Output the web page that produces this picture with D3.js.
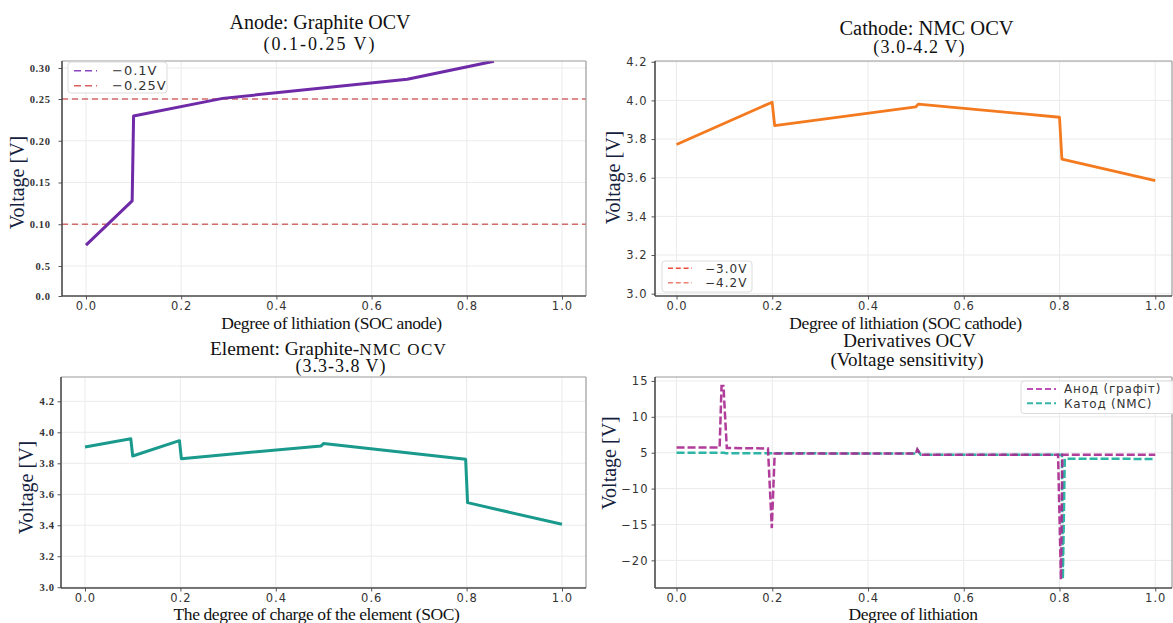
<!DOCTYPE html>
<html>
<head>
<meta charset="utf-8">
<script src="https://cdn.jsdelivr.net/npm/d3@7"></script>
<style>
  body { margin: 0; background: #fff; }
  svg { display: block; }
</style>
</head>
<body>
<svg id="chart" width="1173" height="623"></svg>
<script>
// ---- shared x ticks (degree of lithiation / SOC) ----
const socTicks = [0, 0.2, 0.4, 0.6, 0.8, 1.0];

// ---- Anode: graphite OCV ----
const anodeSoc     = [0, 0.097, 0.1, 0.287, 0.675, 0.857];
const anodeVoltage = [0.075, 0.128, 0.2296, 0.251, 0.282, 0.311];
const anodeYTicks      = [0, 0.05, 0.10, 0.15, 0.20, 0.25, 0.30];
const anodeYTickLabels = ["0.0", "0.5", "0.10", "0.15", "0.20", "0.25", "0.30"];
const anodeRefLevels = [0.10, 0.25];
const anodeLegend    = ["\u22120.1V", "\u22120.25V"];

// ---- Cathode: NMC OCV ----
const cathodeSoc     = [0, 0.1997, 0.205, 0.5, 0.505, 0.8, 0.805, 1.0];
const cathodeVoltage = [3.772, 3.991, 3.870, 3.967, 3.981, 3.913, 3.696, 3.585];
const cathodeYTicks  = [3.0, 3.2, 3.4, 3.6, 3.8, 4.0, 4.2];
const cathodeLegend  = ["\u22123.0V", "\u22124.2V"];

// ---- Full cell: graphite-NMC OCV ----
const cellSoc     = [0, 0.096, 0.1, 0.198, 0.202, 0.495, 0.5, 0.798, 0.802, 1.0];
const cellVoltage = [3.905, 3.959, 3.847, 3.946, 3.830, 3.912, 3.927, 3.826, 3.546, 3.406];
const cellYTicks  = [3.0, 3.2, 3.4, 3.6, 3.8, 4.0, 4.2];

// ---- Derivatives (voltage sensitivity) ----
const dAnodeSoc    = [0, 0.09, 0.094, 0.098, 0.105, 0.191, 0.199, 0.205, 0.5, 0.503, 0.51, 0.797, 0.803, 0.806, 1.0];
const dAnodeValue  = [5.74, 5.74, 14.3, 14.3, 5.65, 5.6, -15.5, 4.7, 4.7, 5.46, 4.2, 4.2, -22.7, 4.2, 4.2];
const dCathodeSoc   = [0, 0.1, 0.102, 0.5, 0.503, 0.51, 0.805, 0.807, 0.811, 1.0];
const dCathodeValue = [5.0, 5.0, 4.75, 4.7, 5.4, 4.2, 4.2, -22.6, 2.5, 2.4];
const derivYTicks      = [15, 10, 5, -10, -15, -20];
const derivYTickLabels = ["15", "10", "5", "\u221210", "\u221215", "\u221220"];
const derivLegend      = ["\u0410\u043d\u043e\u0434 (\u0433\u0440\u0430\u0444\u0456\u0442)", "\u041a\u0430\u0442\u043e\u0434 (NMC)"];

// ---- styling ----
const SERIF = "'Liberation Serif', 'Times New Roman', serif";
const SANS  = "'DejaVu Sans', sans-serif";
const LABEL_COLOR = "#14213d";

const svg = d3.select("#chart");
svg.append("rect").attr("width", 1173).attr("height", 623).attr("fill", "#fff");

const fmt1 = d3.format(".1f");

function panel(o) {
  const [x0, y0, x1, y1] = o.box;
  const w = x1 - x0, h = y1 - y0;
  const g = svg.append("g").attr("transform", `translate(${x0},${y0})`);
  const x = d3.scaleLinear().domain(o.xDomain).range([0, w]);
  const y = o.yScale(h);

  const clipId = "clip-" + o.id;
  g.append("clipPath").attr("id", clipId)
    .append("rect").attr("width", w).attr("height", h);

  // grid
  const grid = g.append("g").attr("stroke", "#ebebeb").attr("stroke-width", 1);
  grid.selectAll(".gx").data(socTicks).join("line")
    .attr("x1", d => x(d)).attr("x2", d => x(d)).attr("y1", 0).attr("y2", h);
  grid.selectAll(".gy").data(o.yTicks).join("line")
    .attr("x1", 0).attr("x2", w).attr("y1", d => y(d)).attr("y2", d => y(d));

  // axes
  const xa = g.append("g").attr("transform", `translate(0,${h})`)
    .call(d3.axisBottom(x).tickValues(socTicks).tickFormat(fmt1).tickSize(3.5).tickPadding(2.2));
  xa.select(".domain").remove();
  xa.selectAll("line").attr("stroke", "#555");
  xa.selectAll("text").attr("fill", "#333").style("font-family", SANS)
    .style("font-size", "11.5px").style("letter-spacing", "1px");

  const ya = g.append("g")
    .call(d3.axisLeft(y).tickValues(o.yTicks).tickFormat((d, i) => o.yTickLabels[i])
      .tickSize(3.5).tickPadding(o.yPad));
  ya.select(".domain").remove();
  ya.selectAll("line").attr("stroke", "#555");
  ya.selectAll("text").attr("fill", "#333");
  if (o.serifTicks) {
    ya.selectAll("text").style("font-family", SERIF).style("font-weight", "bold")
      .style("font-size", "10.5px").style("letter-spacing", "0.6px");
  } else {
    ya.selectAll("text").style("font-family", SANS)
      .style("font-size", "11.5px").style("letter-spacing", "1px");
  }

  const plot = g.append("g").attr("clip-path", `url(#${clipId})`);
  o.draw(plot, x, y, w, h);

  // frame
  g.append("line").attr("x1", 0).attr("x2", w).attr("y1", 0).attr("y2", 0)
    .attr("stroke", "#9a9a9a").attr("stroke-width", 1.2);
  g.append("line").attr("x1", w).attr("x2", w).attr("y1", 0).attr("y2", h)
    .attr("stroke", "#9a9a9a").attr("stroke-width", 1.2);
  g.append("line").attr("x1", 0).attr("x2", 0).attr("y1", 0).attr("y2", h)
    .attr("stroke", "#4a4a4a").attr("stroke-width", 1.6);
  g.append("line").attr("x1", 0).attr("x2", w).attr("y1", h).attr("y2", h)
    .attr("stroke", "#4a4a4a").attr("stroke-width", 1.6);

  if (o.legend) o.legend(g, x0, y0);
  return { g, x, y };
}

function line(xs, ys, x, y) {
  return d3.line().x((d, i) => x(xs[i])).y(d => y(d))(ys);
}

function legendBox(g, box, entries) {
  // box in page coordinates; g is translated by the panel origin
  const [bx0, by0, bx1, by1, ox, oy] = box;
  const lg = g.append("g").attr("transform", `translate(${-ox},${-oy})`);
  lg.append("rect").attr("x", bx0).attr("y", by0).attr("width", bx1 - bx0).attr("height", by1 - by0)
    .attr("rx", 3).attr("fill", "#fff").attr("fill-opacity", 0.85)
    .attr("stroke", "#dcdcdc").attr("stroke-width", 1);
  entries.forEach(e => {
    lg.append("line").attr("x1", e.sx0).attr("x2", e.sx1).attr("y1", e.y).attr("y2", e.y)
      .attr("stroke", e.color).attr("stroke-width", e.width).attr("stroke-dasharray", e.dash);
    lg.append("text").attr("x", e.tx).attr("y", e.y).attr("dy", "0.35em")
      .attr("fill", "#333").style("font-family", SANS).style("font-size", (e.size || 12) + "px")
      .style("letter-spacing", e.ls || "1px").text(e.text);
  });
}

function text(t, x, y, size, opts = {}) {
  const el = svg.append("text").attr("x", x).attr("y", y)
    .attr("text-anchor", opts.anchor || "middle")
    .attr("fill", opts.color || "#111")
    .style("font-family", opts.family || SERIF)
    .style("font-size", size + "px")
    .style("letter-spacing", (opts.ls || 0) + "px")
    .text(t);
  if (opts.rotate) el.attr("transform", `rotate(-90,${x},${y})`).attr("dominant-baseline", "central");
  return el;
}

// ===== Panel 1: anode =====
panel({
  id: "anode", box: [62, 61, 586, 296], xDomain: [-0.0504, 1.0504],
  yScale: h => d3.scaleLinear().domain([0, 0.05, 0.25, 0.30]).range([h, h - 30, 38, 7]),
  yTicks: anodeYTicks, yTickLabels: anodeYTickLabels, yPad: 8, serifTicks: true,
  draw: (p, x, y, w) => {
    p.selectAll(".ref").data(anodeRefLevels).join("line")
      .attr("x1", 0).attr("x2", w).attr("y1", d => y(d)).attr("y2", d => y(d))
      .attr("stroke", "#d46a6a").attr("stroke-width", 1.5).attr("stroke-dasharray", "6,4");
    p.append("path").attr("d", line(anodeSoc, anodeVoltage, x, y))
      .attr("fill", "none").attr("stroke", "#6f2aa8").attr("stroke-width", 3)
      .attr("stroke-linejoin", "round");
  },
  legend: (g, ox, oy) => legendBox(g, [68, 62, 167, 93, ox, oy], [
    { y: 70.7, sx0: 74, sx1: 97, tx: 112, color: "#8a45c2", width: 1.6, dash: "7,4", text: anodeLegend[0], size: 13 },
    { y: 85.7, sx0: 74, sx1: 97, tx: 112, color: "#d9605f", width: 1.6, dash: "7,4", text: anodeLegend[1], size: 13 }
  ])
});

// ===== Panel 2: cathode =====
panel({
  id: "cathode", box: [655, 61, 1172, 296], xDomain: [-0.045, 1.035],
  yScale: h => d3.scaleLinear().domain([2.988, 4.204]).range([h, 0]),
  yTicks: cathodeYTicks, yTickLabels: cathodeYTicks.map(fmt1), yPad: 4,
  draw: (p, x, y) => {
    p.append("path").attr("d", line(cathodeSoc, cathodeVoltage, x, y))
      .attr("fill", "none").attr("stroke", "#f47a1f").attr("stroke-width", 2.8)
      .attr("stroke-linejoin", "round");
  },
  legend: (g, ox, oy) => legendBox(g, [662, 261, 752, 292, ox, oy], [
    { y: 268.3, sx0: 668, sx1: 692, tx: 705, color: "#ee4b3c", width: 1.4, dash: "5,2.8", text: cathodeLegend[0] },
    { y: 282.7, sx0: 668, sx1: 692, tx: 705, color: "#f08172", width: 1.4, dash: "5,2.8", text: cathodeLegend[1] }
  ])
});

// ===== Panel 3: full cell =====
panel({
  id: "cell", box: [61, 377, 586, 588], xDomain: [-0.0503, 1.0503],
  yScale: h => d3.scaleLinear().domain([2.995, 4.357]).range([h, 0]),
  yTicks: cellYTicks, yTickLabels: cellYTicks.map(fmt1), yPad: 3, serifTicks: true,
  draw: (p, x, y) => {
    p.append("path").attr("d", line(cellSoc, cellVoltage, x, y))
      .attr("fill", "none").attr("stroke", "#199a8c").attr("stroke-width", 3)
      .attr("stroke-linejoin", "round");
  }
});

// ===== Panel 4: derivatives =====
// tick rows are evenly spaced; the step between "5" and "-10" spans one row
panel({
  id: "deriv", box: [655, 377, 1172, 588], xDomain: [-0.045, 1.035],
  yScale: h => {
    const row = d3.scaleLinear().domain([-0.77, 5.11]).range([h, 0]);
    return d3.scaleLinear().domain([-20, -10, 5, 15]).range([0, 2, 3, 5].map(row));
  },
  yTicks: derivYTicks, yTickLabels: derivYTickLabels, yPad: 3,
  draw: (p, x, y) => {
    p.append("path").attr("d", line(dCathodeSoc, dCathodeValue, x, y))
      .attr("fill", "none").attr("stroke", "#2db5a6").attr("stroke-width", 2.5)
      .attr("stroke-dasharray", "8,3");
    p.append("path").attr("d", line(dAnodeSoc, dAnodeValue, x, y))
      .attr("fill", "none").attr("stroke", "#a8288f").attr("stroke-width", 2.5)
      .attr("stroke-opacity", 0.9).attr("stroke-dasharray", "8,3");
  },
  legend: (g, ox, oy) => legendBox(g, [1021, 381, 1178, 413.5, ox, oy], [
    { y: 389, sx0: 1027, sx1: 1056, tx: 1064, color: "#c24fb5", width: 2, dash: "6,3", text: derivLegend[0], ls: "0.8px" },
    { y: 403.3, sx0: 1027, sx1: 1056, tx: 1064, color: "#35b8aa", width: 2, dash: "6,3", text: derivLegend[1], ls: "0.8px" }
  ])
});

// ===== titles and axis labels =====
text("Anode: Graphite OCV", 320, 29, 20);
text("(0.1-0.25 V)", 320, 50, 18, { ls: 2 });
text("Degree of lithiation (SOC anode)", 331.5, 329, 17.5, { ls: -0.4 });
text("Voltage [V]", 17, 182.5, 20, { rotate: true, color: LABEL_COLOR });

text("Cathode: NMC OCV", 926.5, 35, 20.5);
text("(3.0-4.2 V)", 919.5, 53, 18, { ls: 1.1 });
text("Degree of lithiation (SOC cathode)", 905.5, 329, 17.5, { ls: -0.4 });
text("Voltage [V]", 613, 177.5, 20, { rotate: true, color: LABEL_COLOR });

const t3 = svg.append("text").attr("x", 210).attr("y", 355).attr("fill", "#111")
  .style("font-family", SERIF);
t3.append("tspan").style("font-size", "19.4px").text("Element: Graphite-");
t3.append("tspan").style("font-size", "17px").style("letter-spacing", "1.3px").text("NMC OCV");
text("(3.3-3.8 V)", 341, 372, 18, { ls: 1 });
text("The degree of charge of the element (SOC)", 316.5, 620, 17.5, { ls: -0.4 });
text("Voltage [V]", 26, 487.5, 20, { rotate: true, color: LABEL_COLOR });

text("Derivatives OCV", 909.5, 347, 19);
text("(Voltage sensitivity)", 907, 366, 19);
text("Degree of lithiation", 913, 620, 17.5, { ls: -0.4 });
text("Voltage [V]", 608.5, 463, 20, { rotate: true, color: LABEL_COLOR });
</script>
</body>
</html>
